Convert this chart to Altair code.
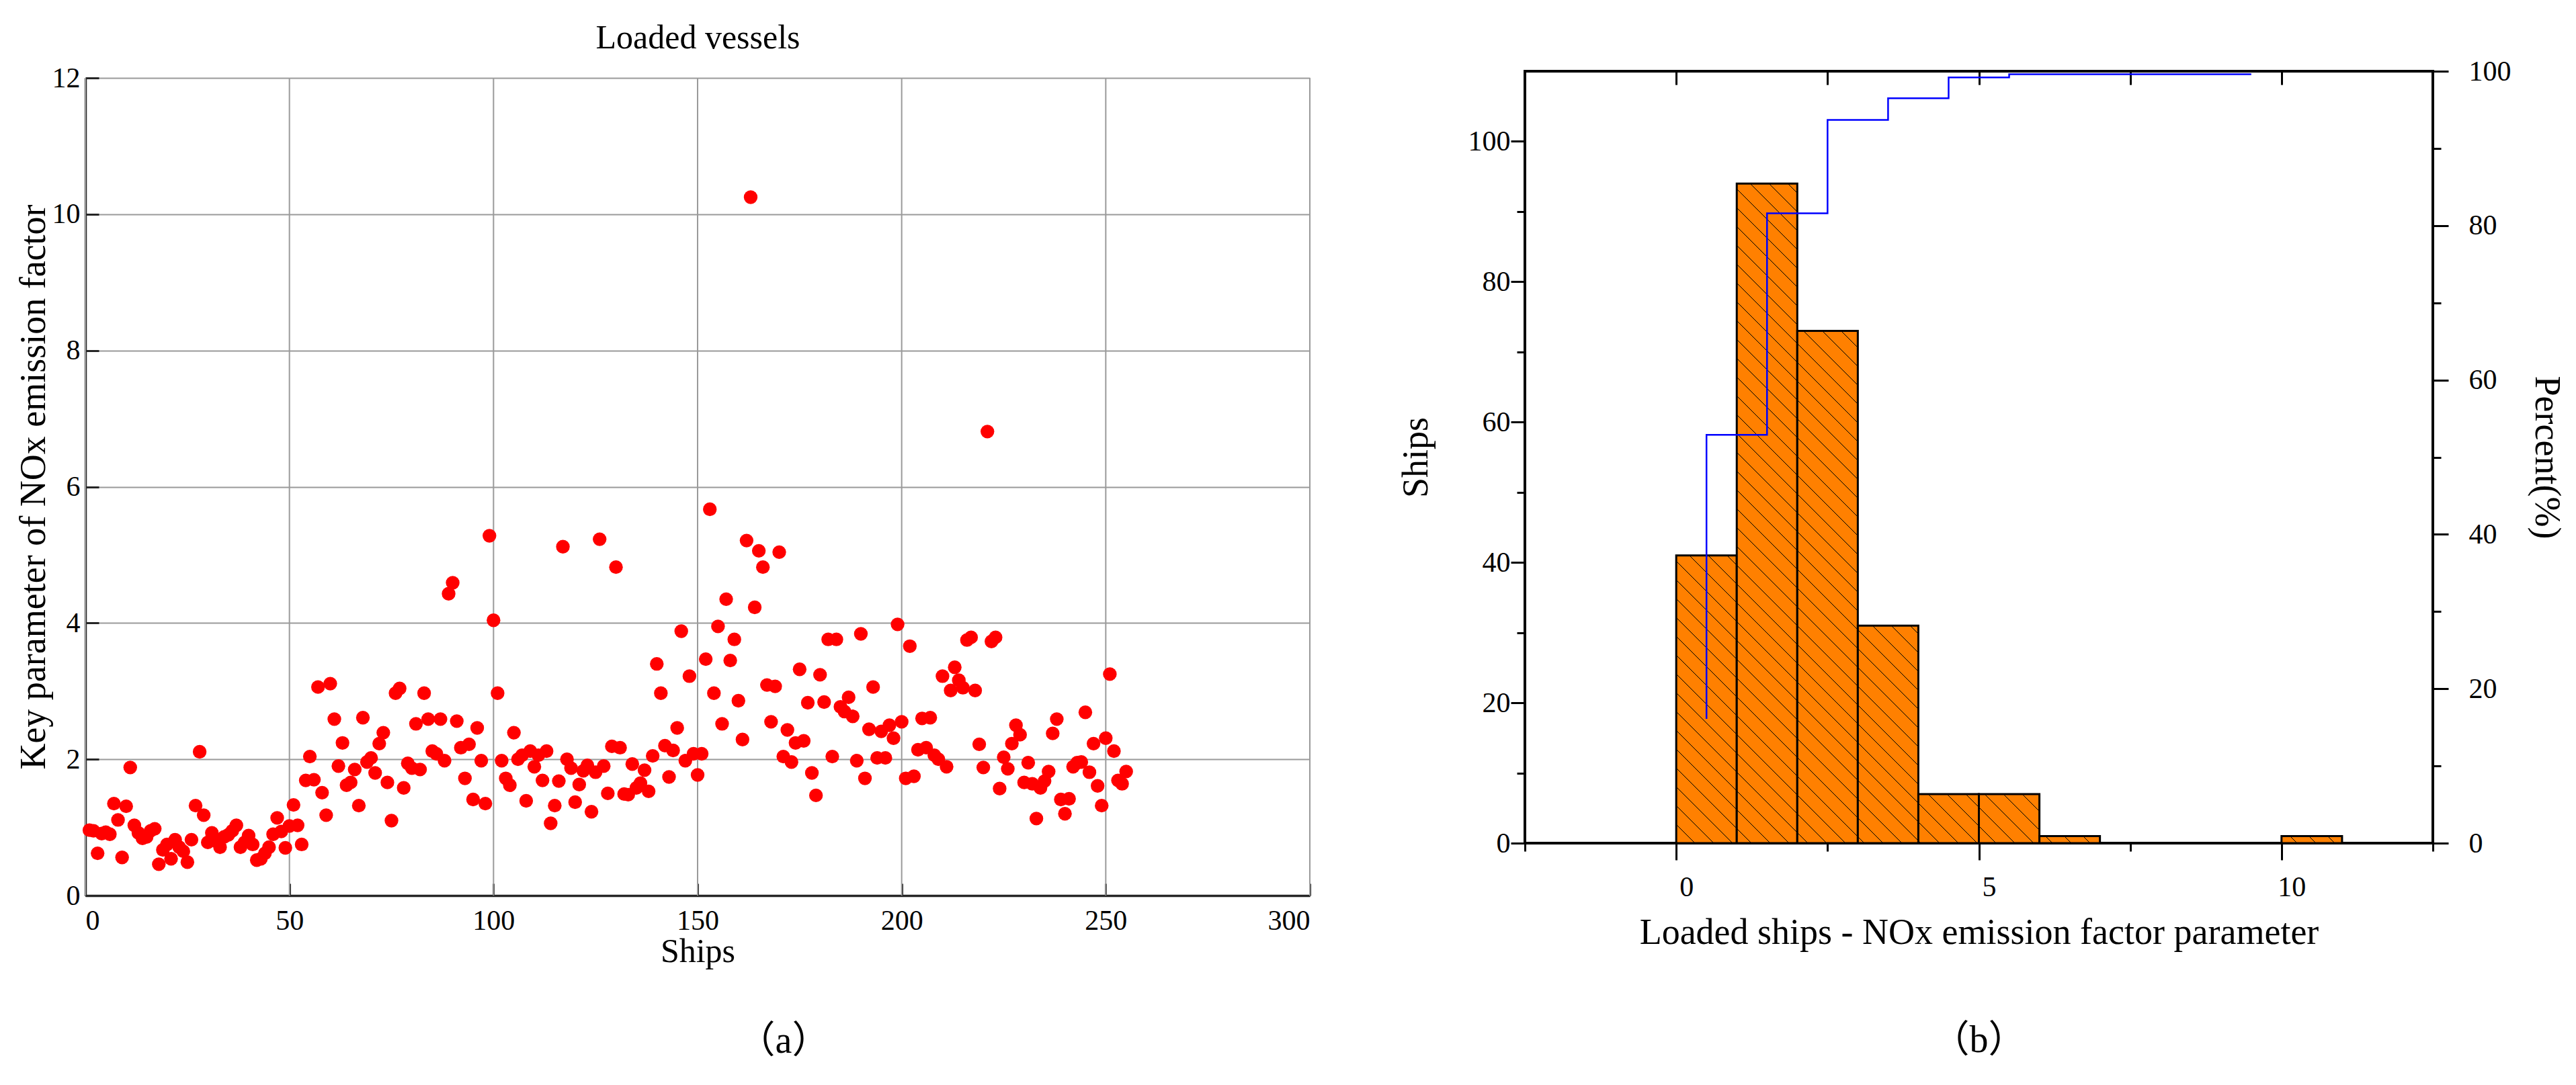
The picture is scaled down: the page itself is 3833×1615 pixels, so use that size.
import altair as alt
import pandas as pd
import numpy as np

FONT = "Liberation Serif"
CJK_FONT = "Liberation Serif, Noto Sans CJK SC"

# ---------------- data: panel (a) ----------------
ship_values = [
    0.96, 0.95, 0.62, 0.91, 0.93, 0.90, 1.35, 1.11, 0.56, 1.31,
    1.88, 1.03, 0.92, 0.84, 0.86, 0.95, 0.98, 0.46, 0.67, 0.75,
    0.54, 0.82, 0.71, 0.65, 0.49, 0.82, 1.32, 2.11, 1.18, 0.78,
    0.92, 0.80, 0.71, 0.86, 0.89, 0.95, 1.03, 0.71, 0.78, 0.88,
    0.75, 0.52, 0.54, 0.62, 0.71, 0.90, 1.14, 0.94, 0.70, 1.02,
    1.33, 1.03, 0.75, 1.69, 2.04, 1.70, 3.06, 1.51, 1.18, 3.11,
    2.59, 1.90, 2.24, 1.62, 1.66, 1.85, 1.32, 2.61, 1.96, 2.02,
    1.80, 2.23, 2.39, 1.66, 1.10, 2.97, 3.04, 1.58, 1.94, 1.87,
    2.52, 1.85, 2.97, 2.59, 2.12, 2.08, 2.59, 1.98, 4.43, 4.59,
    2.56, 2.17, 1.72, 2.22, 1.41, 2.46, 1.98, 1.35, 5.28, 4.04,
    2.97, 1.98, 1.72, 1.62, 2.39, 2.00, 2.06, 1.39, 2.12, 1.89,
    2.06, 1.69, 2.12, 1.06, 1.32, 1.68, 5.12, 2.00, 1.87, 1.37,
    1.63, 1.83, 1.91, 1.23, 1.81, 5.23, 1.90, 1.50, 2.19, 4.82,
    2.17, 1.49, 1.48, 1.93, 1.58, 1.65, 1.84, 1.53, 2.05, 3.40,
    2.97, 2.20, 1.74, 2.13, 2.46, 3.88, 1.98, 3.22, 2.08, 1.77,
    2.08, 3.47, 5.67, 2.97, 3.95, 2.52, 4.35, 3.45, 3.76, 2.86,
    2.29, 5.21, 10.25, 4.23, 5.06, 4.82, 3.09, 2.55, 3.07, 5.04,
    2.04, 2.43, 1.96, 2.24, 3.32, 2.27, 2.83, 1.80, 1.47, 3.24,
    2.84, 3.76, 2.04, 3.76, 2.77, 2.70, 2.91, 2.63, 1.98, 3.84,
    1.72, 2.44, 3.06, 2.02, 2.41, 2.02, 2.50, 2.31, 3.98, 2.55,
    1.72, 3.66, 1.75, 2.14, 2.60, 2.17, 2.61, 2.06, 2.00, 3.22,
    1.89, 3.01, 3.35, 3.16, 3.05, 3.75, 3.79, 3.01, 2.22, 1.88,
    6.81, 3.73, 3.79, 1.57, 2.03, 1.86, 2.23, 2.50, 2.36, 1.66,
    1.95, 1.64, 1.13, 1.58, 1.68, 1.82, 2.38, 2.59, 1.41, 1.20,
    1.42, 1.89, 1.95, 1.96, 2.69, 1.81, 2.23, 1.61, 1.32, 2.31,
    3.25, 2.12, 1.69, 1.64, 1.82,
]
ship_index = list(range(1, len(ship_values) + 1))
a_x_ticks = [0, 50, 100, 150, 200, 250, 300]
a_y_ticks = [0, 2, 4, 6, 8, 10, 12]

# ---------------- data: panel (b) ----------------
bin_start = [0, 1, 2, 3, 4, 5, 6, 10]
bin_end = [1, 2, 3, 4, 5, 6, 7, 11]
bin_count = [41, 94, 73, 31, 7, 7, 1, 1]
cum_x = [0.5, 1.5, 2.5, 3.5, 4.5, 5.5, 6.5, 7.5, 8.5, 9.5]
cum_pct = [16.1, 52.9, 81.6, 93.7, 96.5, 99.2, 99.6, 99.6, 99.6, 99.6]
b_x_major = [0, 5, 10]
b_x_minor = [-2.5, 2.5, 7.5, 12.5]
b_x_top = [0, 2.5, 5, 7.5, 10]
b_y_major = [0, 20, 40, 60, 80, 100]
b_y_minor = [10, 30, 50, 70, 90]
p_major = [0, 20, 40, 60, 80, 100]
p_minor = [10, 30, 50, 70, 90]

# ---------------- sizes ----------------
WA, HA = 1822, 1227        # view of panel (a); the 12-line sits 10 px below its top
A_TOP_GAP = 10
WB, HB = 1351, 1149
XB_DOM = [-2.5, 12.5]
YB_DOM = [0, 110]

scatter_df = pd.DataFrame({"ship": ship_index, "value": ship_values})
vgrid_df = pd.DataFrame({"gx": a_x_ticks,
                         "g0": [a_y_ticks[0]] * len(a_x_ticks),
                         "g1": [a_y_ticks[-1]] * len(a_x_ticks)})
hist_df = pd.DataFrame({"start": bin_start, "end": bin_end, "count": bin_count,
                        "base": [0] * len(bin_count)})
cum_df = pd.DataFrame({"cx": cum_x, "pct": cum_pct})

# hatch lines ("\\" direction) clipped to each bar, built from the bar data
def px(x):
    return (x - XB_DOM[0]) / (XB_DOM[1] - XB_DOM[0]) * WB

def py(v):
    return HB - (v - YB_DOM[0]) / (YB_DOM[1] - YB_DOM[0]) * HB

def inv_x(p):
    return p / WB * (XB_DOM[1] - XB_DOM[0]) + XB_DOM[0]

def inv_y(p):
    return (HB - p) / HB * (YB_DOM[1] - YB_DOM[0]) + YB_DOM[0]

HATCH = 28.0
hrows = []
for s, e, c in zip(bin_start, bin_end, bin_count):
    x0, x1 = px(s), px(e)
    yt, yb = py(c), HB
    kmin = int(np.floor((yt - x1) / HATCH)) - 1
    kmax = int(np.ceil((yb - x0) / HATCH)) + 1
    for k in range(kmin, kmax + 1):
        cc = k * HATCH
        a = max(x0, yt - cc)
        b = min(x1, yb - cc)
        if b - a > 1.0:
            hrows.append({"hx": inv_x(a), "hy": inv_y(a + cc),
                          "hx2": inv_x(b), "hy2": inv_y(b + cc)})
hatch_df = pd.DataFrame(hrows)

# ---------------- panel (a) ----------------
xa_scale = alt.Scale(domain=[0, 300], nice=False, zero=False)
ya_scale = alt.Scale(domain=[0, 12], nice=False, range=[HA, A_TOP_GAP])
DARK = "#262626"
GRID = "#9a9a9a"

vgrid = alt.Chart(vgrid_df).mark_rule(color=GRID, strokeWidth=2).encode(
    x=alt.X("gx:Q", scale=xa_scale, axis=None),
    y=alt.Y("g0:Q", scale=ya_scale, axis=None),
    y2="g1:Q",
)

pts = alt.Chart(scatter_df).mark_circle(color="#FF0000", opacity=1, size=415).encode(
    x=alt.X("ship:Q", scale=xa_scale,
            axis=alt.Axis(orient="bottom", values=a_x_ticks, ticks=False,
                          domain=True, domainColor=DARK, domainWidth=3.5,
                          grid=False,
                          labelFontSize=42, labelPadding=17,
                          title="Ships", titleFontSize=50, titlePadding=0)),
    y=alt.Y("value:Q", scale=ya_scale,
            axis=alt.Axis(orient="left", values=a_y_ticks, ticks=False,
                          domain=True, domainColor=DARK, domainWidth=3.5,
                          grid=True, gridColor=GRID, gridWidth=2,
                          labelFontSize=42, labelPadding=8,
                          title="Key parameter  of NOx emission factor",
                          titleFontSize=54, titlePadding=0)),
)

inner_ticks = alt.Chart(scatter_df).mark_circle(opacity=0).encode(
    x=alt.X("ship:Q", scale=xa_scale,
            axis=alt.Axis(orient="bottom", offset=-18, tickSize=18, tickWidth=3,
                          tickColor=DARK, values=a_x_ticks, labels=False,
                          domain=False, grid=False, title=None)),
    y=alt.Y("value:Q", scale=ya_scale,
            axis=alt.Axis(orient="left", offset=-20, tickSize=20, tickWidth=3,
                          tickColor=DARK, values=a_y_ticks, labels=False,
                          domain=False, grid=False, title=None)),
)

top_title = alt.Chart(scatter_df).mark_circle(opacity=0).encode(
    x=alt.X("ship:Q", scale=xa_scale,
            axis=alt.Axis(orient="top", ticks=False, labels=False, domain=False,
                          grid=False, title="Loaded vessels", titleFontSize=50,
                          titlePadding=25)),
    y=alt.Y("value:Q", scale=ya_scale, axis=None),
)

panel_a = alt.layer(vgrid, pts, inner_ticks, top_title).resolve_axis(
    x="independent", y="independent"
).properties(
    width=WA, height=HA,
    view=alt.ViewBackground(stroke="transparent"),
    title=alt.TitleParams(text="（a）", orient="bottom", font=CJK_FONT,
                          fontSize=56, fontWeight="normal", color="black",
                          offset=82, dx=128),
)

# ---------------- panel (b) ----------------
xb_scale = alt.Scale(domain=XB_DOM, nice=False, zero=False)
yb_scale = alt.Scale(domain=YB_DOM, nice=False)
pb_scale = alt.Scale(domain=[0, 100], nice=False)

bars = alt.Chart(hist_df).mark_rect(fill="#FF8000", stroke="black", strokeWidth=3).encode(
    x=alt.X("start:Q", scale=xb_scale,
            axis=alt.Axis(orient="bottom", values=b_x_major, tickSize=25, tickWidth=3,
                          labelFontSize=42, labelPadding=20, labelOffset=15,
                          domain=False, grid=False,
                          title="Loaded ships - NOx emission factor parameter",
                          titleFontSize=54, titlePadding=20)),
    x2="end:Q",
    y=alt.Y("count:Q", scale=yb_scale,
            axis=alt.Axis(orient="left", values=b_y_major, tickSize=21, tickWidth=3,
                          labelFontSize=42, labelPadding=1,
                          domain=False, grid=False,
                          title="Ships", titleFontSize=54, titlePadding=50)),
    y2="base:Q",
)

hatch = alt.Chart(hatch_df).mark_rule(color="black", strokeWidth=1).encode(
    x=alt.X("hx:Q", scale=xb_scale,
            axis=alt.Axis(orient="bottom", values=b_x_minor, tickSize=12, tickWidth=3,
                          labels=False, domain=False, grid=False, title=None)),
    x2="hx2:Q",
    y=alt.Y("hy:Q", scale=yb_scale,
            axis=alt.Axis(orient="left", values=b_y_minor, tickSize=12, tickWidth=3,
                          labels=False, domain=False, grid=False, title=None)),
    y2="hy2:Q",
)

cum_line = alt.Chart(cum_df).mark_line(color="#0000FF", strokeWidth=2.5,
                                        interpolate="step-before").encode(
    x=alt.X("cx:Q", scale=xb_scale,
            axis=alt.Axis(orient="top", offset=-20, tickSize=20, tickWidth=3,
                          values=b_x_top, labels=False, domain=False, grid=False,
                          title=None)),
    y=alt.Y("pct:Q", scale=pb_scale,
            axis=alt.Axis(orient="right", values=p_major, tickSize=23, tickWidth=3,
                          labelFontSize=42, labelPadding=30,
                          domain=False, grid=False,
                          title="Percent(%)", titleFontSize=54, titlePadding=25)),
)

cum_minor = alt.Chart(cum_df).mark_line(opacity=0).encode(
    x=alt.X("cx:Q", scale=xb_scale, axis=None),
    y=alt.Y("pct:Q", scale=pb_scale,
            axis=alt.Axis(orient="right", values=p_minor, tickSize=12, tickWidth=3,
                          labels=False, domain=False, grid=False, title=None)),
)

panel_b = alt.layer(bars, hatch, cum_line, cum_minor).resolve_scale(
    y="independent"
).resolve_axis(
    x="independent", y="independent"
).properties(
    width=WB, height=HB,
    view=alt.ViewBackground(stroke="black", strokeWidth=4),
    title=alt.TitleParams(text="（b）", orient="bottom", font=CJK_FONT,
                          fontSize=56, fontWeight="normal", color="black",
                          offset=107),
)

chart = alt.concat(panel_a, panel_b, columns=2, spacing=127).properties(
    padding={"left": 14, "top": 22, "right": 5, "bottom": 5},
    background="white",
).configure_axis(
    labelFont=FONT, titleFont=FONT, labelColor="black", titleColor="black",
    titleFontWeight="normal", tickColor="black", domainColor="black",
).configure_title(font=FONT, fontWeight="normal", color="black")

chart.save("out.html", embed_options={"renderer": "svg", "actions": False})
